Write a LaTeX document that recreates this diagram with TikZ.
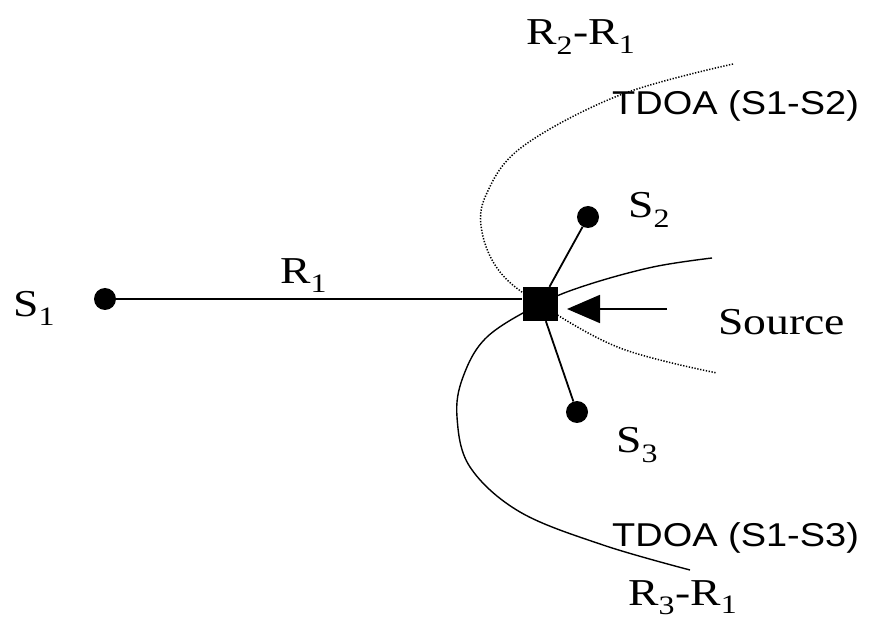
\documentclass[tikz,border=0pt]{standalone}
\usepackage{fontspec}
\setmainfont{Liberation Serif}
\newfontfamily\lblsans{Liberation Sans}
\usetikzlibrary{arrows.meta}
\tikzset{
  px/.style={x=1pt,y=-1pt},
  sensor/.style={circle,fill=black,inner sep=0pt,minimum size=22pt},
  srcbox/.style={rectangle,fill=black,inner sep=0pt,minimum width=35pt,minimum height=34pt},
  serlbl/.style={font=\fontsize{38}{40}\selectfont,inner sep=0pt,anchor=base west,xscale=1.2,transform shape},
  sanslbl/.style={font=\lblsans\fontsize{33}{36}\selectfont,inner sep=0pt,anchor=base west,xscale=1.15,transform shape},
  wire/.style={line width=1.8pt},
  hypdot/.style={line width=1.5pt,dash pattern=on 1.3pt off 1.6pt},
  hypsolid/.style={line width=1.4pt}
}
\begin{document}
\begin{tikzpicture}[px]
\useasboundingbox (0,0) rectangle (871,620);
% hyperbola branches
\draw[hypdot] plot[smooth,tension=0.6] coordinates {(733,64) (620,95) (522,147) (486,195) (482,232) (500,272) (540,304) (620,348) (717,373)};
\draw[hypsolid] plot[smooth,tension=0.6] coordinates {(712,258) (653,267) (587,285) (540,304) (487,337) (463,377) (457,417) (470,467) (520,512) (603,545) (690,570)};
% nodes
\node[srcbox] (sq) at (540,304) {};
\node[sensor] (s1) at (105,299) {};
\node[sensor] (s2) at (588,217) {};
\node[sensor] (s3) at (577,412) {};
\coordinate (arrtail) at (667,309);
\coordinate (arrtip) at (567,309);
% connectors
\draw[wire] (s1) -- (s1 -| sq.west);
\draw[wire] (s2) -- (sq);
\draw[wire] (s3) -- (sq);
\draw[wire,-{Triangle[length=33pt,width=28pt]}] (arrtail) -- (arrtip);
% labels
\node[serlbl] (ls1) at (13,317) {S\textsubscript{1}};
\node[serlbl] (lr1) at (280,284) {R\textsubscript{1}};
\node[serlbl] (ls2) at (628,218) {S\textsubscript{2}};
\node[serlbl] (ls3) at (616,453) {S\textsubscript{3}};
\node[serlbl] (lsrc) at (718,335) {Source};
\node[serlbl] (lr21) at (526,45) {R\textsubscript{2}-R\textsubscript{1}};
\node[serlbl] (lr31) at (628,605) {R\textsubscript{3}-R\textsubscript{1}};
\node[sanslbl] (lt12) at (612,115) {TDOA (S1-S2)};
\node[sanslbl] (lt13) at (612,546) {TDOA (S1-S3)};
\end{tikzpicture}
\end{document}
